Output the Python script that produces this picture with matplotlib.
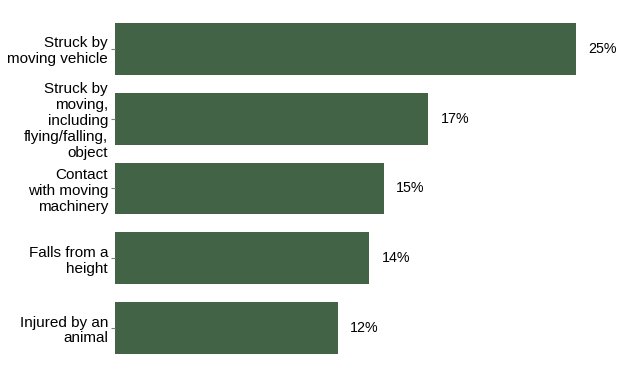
import matplotlib
matplotlib.use("Agg")
import matplotlib.pyplot as plt

categories = ["Struck by\nmoving vehicle",
              "Struck by\nmoving,\nincluding\nflying/falling,\nobject",
              "Contact\nwith moving\nmachinery",
              "Falls from a\nheight",
              "Injured by an\nanimal"]
values = [25.0, 17.0, 14.6, 13.8, 12.1]
value_labels = ["25%", "17%", "15%", "14%", "12%"]

plt.rcParams['font.family'] = ['Liberation Sans', 'DejaVu Sans']

fig = plt.figure(figsize=(6.44, 3.82), dpi=100)
W, H = 644, 382
ax = fig.add_axes([115 / W, (H - 363) / H, (W - 115) / W, (363 - 14) / H])
pos = list(range(len(categories)))
ax.barh(pos, values, height=0.74, color="#436346")
ax.set_xlim(0, (W - 115) / 18.44)
ax.set_ylim(len(categories) - 0.5, -0.5)
for p, v, lab in zip(pos, values, value_labels):
    ax.text(v + 0.65, p, lab, va="center", ha="left", fontsize=10.3, color="#000000")
ax.set_yticks(pos)
ax.set_yticklabels(categories, fontsize=11, linespacing=1.17)
ax.tick_params(axis="y", length=3, width=0.8, color="#808080", pad=2)
ax.set_xticks([])
for s in ax.spines.values():
    s.set_visible(False)
fig.savefig("out.png", dpi=100, facecolor="white")
